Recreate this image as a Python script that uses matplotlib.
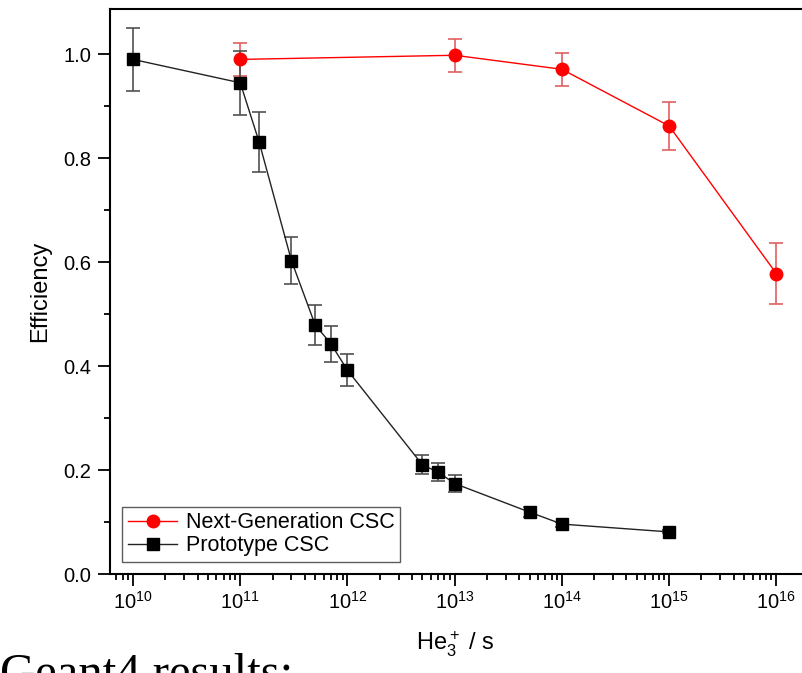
import numpy as np
import matplotlib
matplotlib.use("Agg")
import matplotlib.pyplot as plt
from matplotlib.ticker import LogLocator, MultipleLocator, FormatStrFormatter

plt.rcParams['font.family'] = ['Liberation Sans', 'DejaVu Sans']
plt.rcParams['mathtext.fontset'] = 'custom'
plt.rcParams['mathtext.rm'] = 'Liberation Sans'
plt.rcParams['mathtext.it'] = 'Liberation Sans:italic'

# Next-Generation CSC
ng_x = [1e11, 1e13, 1e14, 1e15, 1e16]
ng_y = [0.990, 0.998, 0.971, 0.862, 0.578]
ng_err = [0.031, 0.032, 0.032, 0.046, 0.058]

# Prototype CSC
pr_x = [1e10, 1e11, 1.5e11, 3e11, 5e11, 7e11, 1e12, 5e12, 7e12, 1e13, 5e13, 1e14, 1e15]
pr_y = [0.990, 0.945, 0.831, 0.603, 0.479, 0.443, 0.392, 0.210, 0.196, 0.174, 0.119, 0.096, 0.081]
pr_err = [0.060, 0.062, 0.057, 0.046, 0.039, 0.035, 0.031, 0.018, 0.018, 0.017, 0.010, 0.005, 0.003]

fig = plt.figure(figsize=(8.02, 6.73), dpi=100)
ax = fig.add_axes([110/802, 1-574/673, 691/802, 565/673])

# error bars first, then line+marker (legend uses the plain lines)
ax.errorbar(ng_x, ng_y, yerr=ng_err, fmt='none', ecolor='#e06060',
            elinewidth=1.2, capsize=5, capthick=1.2, zorder=2)
ax.errorbar(pr_x, pr_y, yerr=pr_err, fmt='none', ecolor='#505050',
            elinewidth=1.2, capsize=5, capthick=1.2, zorder=2)
ng_line, = ax.plot(ng_x, ng_y, color='red', lw=1.0, marker='o', ms=9,
                   mfc='red', mec='red', zorder=3)
pr_line, = ax.plot(pr_x, pr_y, color='#222222', lw=1.0, marker='s', ms=8.5,
                   mfc='black', mec='black', zorder=3)

ax.set_xscale('log')
ax.set_xlim(10**9.785, 10**16.23)
ax.set_ylim(0, 1.087)
ax.xaxis.set_major_locator(LogLocator(base=10, numticks=20))
ax.xaxis.set_minor_locator(LogLocator(base=10, subs=np.arange(2, 10), numticks=20))
ax.yaxis.set_major_locator(MultipleLocator(0.2))
ax.yaxis.set_minor_locator(MultipleLocator(0.1))
ax.yaxis.set_major_formatter(FormatStrFormatter('%.1f'))

for s in ['left', 'bottom', 'top']:
    ax.spines[s].set_linewidth(1.5)
ax.spines['right'].set_visible(False)
ax.tick_params(which='both', direction='out', width=1.3, top=False, right=False,
               labelsize=14.5, colors='black')
ax.tick_params(which='major', length=8.5, pad=5)
ax.tick_params(which='minor', length=4)
ax.tick_params(axis='x', which='major', pad=4)

ax.set_ylabel('Efficiency', fontsize=17, labelpad=9)
ax.set_xlabel(r'He$_3^+$ / s', fontsize=17, labelpad=12)

leg = ax.legend([ng_line, pr_line], ['Next-Generation CSC', 'Prototype CSC'],
                loc='lower left', bbox_to_anchor=(0.018, 0.022), fontsize=15.5,
                frameon=True, fancybox=False, handlelength=2.3, handletextpad=0.4,
                borderpad=0.25, labelspacing=0.1, borderaxespad=0)
leg.get_frame().set_edgecolor('#333333')
leg.get_frame().set_linewidth(1.0)

fig.text(0.0, 1-687/673, 'Geant4 results:', fontsize=35,
         family=['Liberation Serif', 'DejaVu Serif'], va='baseline', ha='left')

fig.savefig('out.png', dpi=100)
